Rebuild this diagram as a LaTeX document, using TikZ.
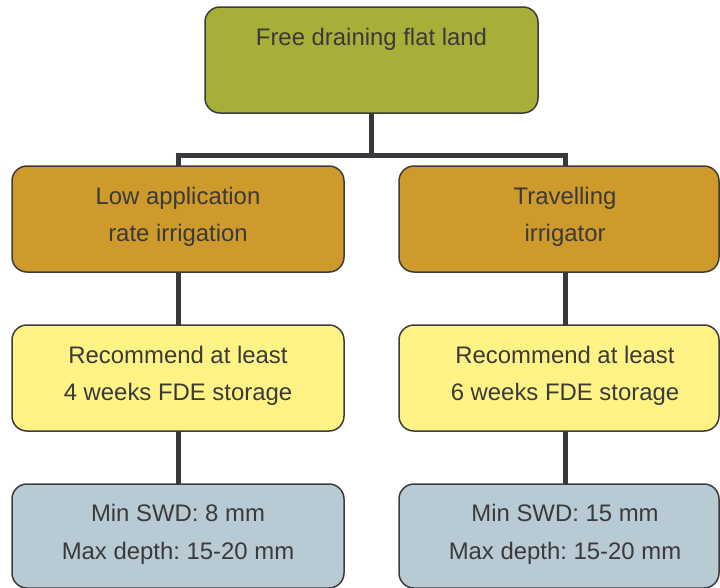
\documentclass[tikz,border=0pt]{standalone}
\usepackage{fontspec}
\setmainfont{Liberation Sans}
\frenchspacing
\definecolor{olive}{HTML}{A8AF38}
\definecolor{ochre}{HTML}{CE9A2C}
\definecolor{paleyellow}{HTML}{FFF385}
\definecolor{paleblue}{HTML}{B8CAD3}
\definecolor{txt}{HTML}{3A3A3A}
\definecolor{edge}{HTML}{3C3C3C}
\definecolor{conn}{HTML}{38383C}
\begin{document}
\begin{tikzpicture}[x=1pt,y=-1pt,
  box/.style={draw=edge, line width=1.5pt, rounded corners=15pt, inner sep=0pt, outer sep=0pt},
  lbl/.style={anchor=base, inner sep=0pt, text=txt, font=\fontsize{23.9}{28}\selectfont\frenchspacing},
  conline/.style={draw=conn, line width=5pt}]
\useasboundingbox (0,0) rectangle (720,587);
\coordinate (jl) at (178,155.5);
\coordinate (jr) at (565,155.5);
\coordinate (jm) at (371.5,155.5);
% boxes
\node[box, fill=olive, minimum width=333pt, minimum height=106pt] (top) at (371.5,60) {};
\node[box, fill=ochre, minimum width=332pt, minimum height=106pt] (l2) at (178,219) {};
\node[box, fill=ochre, minimum width=320pt, minimum height=106pt] (r2) at (559,219) {};
\node[box, fill=paleyellow, minimum width=332pt, minimum height=106pt] (l3) at (178,378) {};
\node[box, fill=paleyellow, minimum width=320pt, minimum height=106pt] (r3) at (559,378) {};
\node[box, fill=paleblue, minimum width=332pt, minimum height=104pt] (l4) at (178,536) {};
\node[box, fill=paleblue, minimum width=320pt, minimum height=104pt] (r4) at (559,536) {};
% connector lines
\draw[conline] (top.south) -- (jm);
\draw[conline, line cap=butt] ([xshift=-2.5pt]jl) -- ([xshift=2.5pt]jr);
\draw[conline] ([yshift=-2.5pt]jl) -- (jl |- l2.north);
\draw[conline] ([yshift=-2.5pt]jr) -- (jr |- r2.north);
\draw[conline] (l2.south) -- (l3.north);
\draw[conline] (jr |- r2.south) -- (jr |- r3.north);
\draw[conline] (l3.south) -- (l4.north);
\draw[conline] (jr |- r3.south) -- (jr |- r4.north);
% texts
\node[lbl] (ttop) at (371.5,45.7) {Free draining flat land};
\node[lbl] (tl2a) at (178,204.3) {Low application};
\node[lbl] (tl2b) at (178,241) {rate irrigation};
\node[lbl] (tr2a) at (565,204.3) {Travelling};
\node[lbl] (tr2b) at (565,241) {irrigator};
\node[lbl] (tl3a) at (178,363) {Recommend at least};
\node[lbl] (tl3b) at (178,400.7) {4 weeks FDE storage};
\node[lbl] (tr3a) at (565,363) {Recommend at least};
\node[lbl] (tr3b) at (565,400.7) {6 weeks FDE storage};
\node[lbl] (tl4a) at (178,521.7) {Min SWD: 8 mm};
\node[lbl] (tl4b) at (178,559.3) {Max depth: 15-20 mm};
\node[lbl] (tr4a) at (565,521.7) {Min SWD: 15 mm};
\node[lbl] (tr4b) at (565,559.3) {Max depth: 15-20 mm};
\end{tikzpicture}
\end{document}
